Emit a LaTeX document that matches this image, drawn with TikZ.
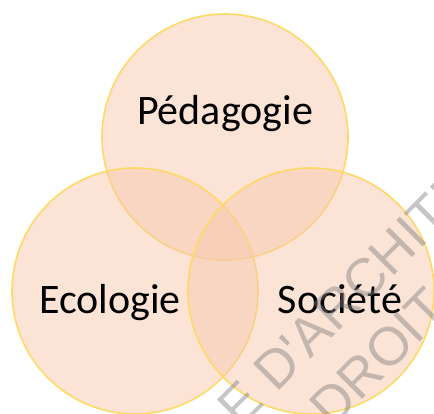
\documentclass[tikz,border=0pt]{standalone}
\usepackage{fontspec}
\setmainfont{Carlito}
\newfontfamily\wmfont{Liberation Sans}
\definecolor{vennfill}{HTML}{F7C9AD}
\definecolor{vennline}{HTML}{FFD966}
\definecolor{wmgray}{HTML}{808080}

\begin{document}
\begin{tikzpicture}[x=1pt,y=-1pt,
  venn/.style={circle, minimum size=246pt, inner sep=0pt, draw=vennline,
    line width=1.6pt, fill=vennfill, fill opacity=0.5, draw opacity=1},
  vennlabel/.style={font=\fontsize{42}{50}\selectfont, text=black, anchor=base, inner sep=0pt},
  wmark/.style={font=\wmfont\fontsize{54}{60}\selectfont, text=wmgray,
    text opacity=0.45, rotate=45, anchor=base west, inner sep=0pt}]
\useasboundingbox (0,0) rectangle (434,414);

% the three circles
\node[venn] (pedacircle) at (225,137) {};
\node[venn] (ecolcircle) at (135,291) {};
\node[venn] (soccircle) at (311,291) {};

% labels
\node[vennlabel] (peda) at (225,125) {Pédagogie};
\node[vennlabel] (ecol) at (110,313) {Ecologie};
\node[vennlabel] (soc) at (340,313) {Société};

% watermark
\begin{scope}
\clip (0,0) rectangle (434,414);
\node[wmark] (wmone) at (276,394) {\llap{E }D'ARCHITECTURE};
\node[wmark] (wmtwo) at (332,430) {DROIT};
\end{scope}
\end{tikzpicture}
\end{document}
